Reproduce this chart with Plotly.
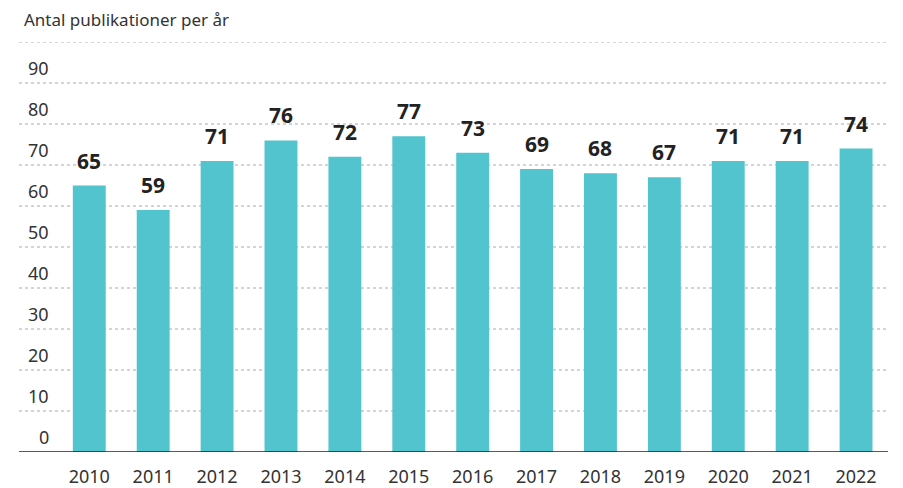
import plotly.graph_objects as go

years = [str(y) for y in range(2010, 2023)]
counts = [65, 59, 71, 76, 72, 77, 73, 69, 68, 67, 71, 71, 74]
y_ticks = [0, 10, 20, 30, 40, 50, 60, 70, 80, 90]
grid_lines = [10, 20, 30, 40, 50, 60, 70, 80, 90, 100]

BAR = "#52c4ce"
TEXT = "#333333"
FONT = "Noto Sans"

fig = go.Figure()
fig.add_trace(
    go.Bar(
        x=list(range(len(years))),
        y=counts,
        marker=dict(color=BAR, line=dict(width=0)),
        width=0.515,
        hoverinfo="x+y",
    )
)

# value labels above bars
for i, v in enumerate(counts):
    fig.add_annotation(
        x=i, y=v, xref="x", yref="y",
        text=f"<b>{v}</b>",
        showarrow=False,
        yanchor="bottom",
        yshift=9,
        font=dict(family=FONT, size=21, color="#222222"),
    )

# y labels sit above their gridline
for t in y_ticks:
    fig.add_annotation(
        x=-0.6, y=t, xref="x", yref="y",
        text=str(t),
        showarrow=False,
        xanchor="right",
        yanchor="middle",
        yshift=15,
        font=dict(family=FONT, size=18, color=TEXT),
    )

for g in grid_lines:
    fig.add_shape(
        type="line", xref="paper", yref="y",
        x0=0, x1=1, y0=g, y1=g,
        line=dict(color="#aaaaaa", width=1, dash="3px,3px"),
        layer="below",
    )
fig.add_shape(
    type="line", xref="paper", yref="y",
    x0=0, x1=1, y0=0, y1=0,
    line=dict(color="#222222", width=1.5),
)

fig.add_annotation(
    x=3 / 869, y=1 + 22 / 410, xref="paper", yref="paper",
    text="Antal publikationer per år",
    showarrow=False,
    xanchor="left",
    yanchor="middle",
    font=dict(family=FONT, size=17, color=TEXT),
)

fig.update_xaxes(
    range=[-1.1, 12.5],
    tickvals=list(range(len(years))),
    ticktext=years,
    showgrid=False,
    zeroline=False,
    showline=False,
    ticks="",
    ticklabelstandoff=12,
    automargin=False,
    tickfont=dict(family=FONT, size=18, color=TEXT),
    fixedrange=True,
)
fig.update_yaxes(
    range=[0, 100],
    showgrid=False,
    zeroline=False,
    showticklabels=False,
    automargin=False,
    fixedrange=True,
)
fig.update_layout(
    width=903,
    height=488,
    margin=dict(l=11, r=23, t=34, b=44),
    plot_bgcolor="white",
    paper_bgcolor="white",
    showlegend=False,
    font=dict(family=FONT, color=TEXT),
)

fig.write_html("out.html")
